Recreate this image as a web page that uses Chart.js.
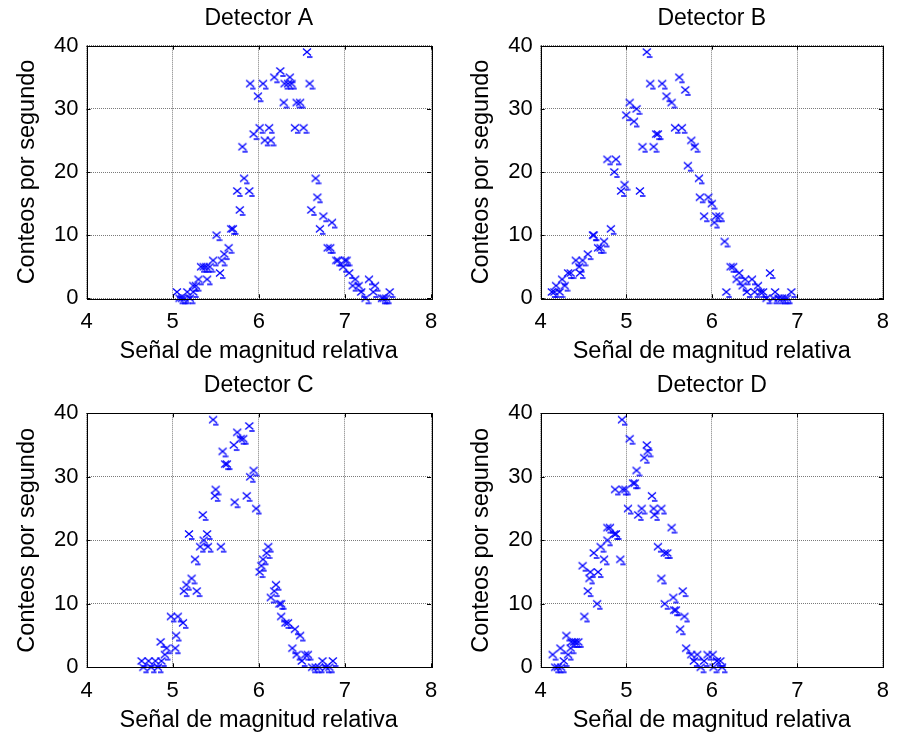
<!DOCTYPE html>
<html>
<head>
<meta charset="utf-8">
<script src="https://cdn.jsdelivr.net/npm/chart.js@4"></script>
<style>
  html, body { margin: 0; padding: 0; background: #fff; }
  #wrap { position: relative; width: 899px; height: 738px; }
  canvas { position: absolute; }
</style>
</head>
<body>
<div id="wrap">
  <canvas id="cA" width="450" height="369" style="left:0;top:0"></canvas>
  <canvas id="cB" width="449" height="369" style="left:450px;top:0"></canvas>
  <canvas id="cC" width="450" height="369" style="left:0;top:369px"></canvas>
  <canvas id="cD" width="449" height="369" style="left:450px;top:369px"></canvas>
</div>
<script>
// Datos
const xTicks = [4, 5, 6, 7, 8];
const yTicks = [0, 10, 20, 30, 40];

const xA = [5.05, 5.08, 5.11, 5.14, 5.17, 5.20, 5.24, 5.24, 5.27, 5.30, 5.33, 5.36, 5.39, 5.40, 5.43, 5.47, 5.51, 5.55, 5.57, 5.60,
            5.65, 5.68, 5.70, 5.75, 5.78, 5.81, 5.83, 5.89, 5.90, 5.94, 5.99, 6.01, 6.05, 6.07, 6.12, 6.14, 6.18, 6.25, 6.29, 6.30,
            6.34, 6.36, 6.38, 6.42, 6.44, 6.48, 6.52, 6.56, 6.59, 6.61, 6.66, 6.68, 6.71, 6.75, 6.80, 6.83, 6.85, 6.90, 6.92, 6.98,
            7.00, 7.02, 7.05, 7.09, 7.12, 7.16, 7.19, 7.24, 7.28, 7.33, 7.35, 7.43, 7.45, 7.48, 7.52];
const yA = [1, 0, 0, 0, 1, 0, 1, 2, 2, 3, 5, 5, 5, 3, 5, 6, 10, 4, 6, 7,
            8, 11, 11, 17, 14, 24, 19, 17, 34, 26, 32, 27, 34, 25, 27, 25, 35, 36, 31, 34,
            34, 35, 34, 27, 31, 31, 27, 39, 34, 14, 19, 16, 11, 13, 8, 8, 12, 6, 6, 5,
            6, 6, 4, 2, 3, 2, 1, 0, 3, 1, 2, 0, 0, 0, 1];

const xB = [4.13, 4.16, 4.18, 4.22, 4.25, 4.28, 4.32, 4.35, 4.41, 4.45, 4.46, 4.49, 4.55, 4.61, 4.62, 4.67, 4.70, 4.74, 4.78, 4.82,
            4.86, 4.88, 4.94, 4.98, 5.00, 5.04, 5.09, 5.12, 5.16, 5.19, 5.24, 5.28, 5.32, 5.35, 5.37, 5.42, 5.47, 5.53, 5.57, 5.62,
            5.65, 5.69, 5.72, 5.76, 5.80, 5.85, 5.86, 5.91, 5.96, 6.00, 6.03, 6.05, 6.09, 6.15, 6.17, 6.22, 6.25, 6.29, 6.32, 6.36,
            6.39, 6.41, 6.47, 6.50, 6.54, 6.57, 6.60, 6.64, 6.68, 6.72, 6.74, 6.78, 6.82, 6.85, 6.88, 6.93];
const yB = [1, 1, 2, 1, 3, 2, 4, 4, 6, 5, 4, 6, 7, 10, 10, 8, 8, 9, 22, 11,
            20, 22, 17, 18, 29, 31, 28, 30, 17, 24, 39, 34, 24, 26, 26, 34, 32, 31, 27, 35,
            27, 33, 21, 25, 24, 19, 16, 13, 16, 15, 12, 13, 13, 9, 1, 5, 5, 3, 4, 2,
            3, 1, 3, 1, 2, 1, 1, 0, 4, 0, 1, 0, 0, 0, 0, 1];

const xC = [4.64, 4.66, 4.72, 4.75, 4.80, 4.83, 4.87, 4.86, 4.91, 4.93, 4.98, 5.03, 5.04, 5.06, 5.12, 5.13, 5.16, 5.19, 5.22, 5.26,
            5.28, 5.32, 5.35, 5.36, 5.40, 5.41, 5.47, 5.49, 5.50, 5.56, 5.58, 5.61, 5.63, 5.71, 5.72, 5.75, 5.79, 5.82, 5.86, 5.89,
            5.90, 5.94, 5.97, 6.01, 6.03, 6.05, 6.09, 6.11, 6.14, 6.18, 6.20, 6.24, 6.26, 6.26, 6.31, 6.34, 6.39, 6.42, 6.44, 6.48,
            6.50, 6.54, 6.57, 6.62, 6.66, 6.70, 6.74, 6.78, 6.82, 6.86];
const yC = [1, 0, 1, 0, 1, 0, 1, 4, 2, 3, 8, 3, 5, 8, 7, 12, 13, 21, 14, 17,
            12, 19, 24, 20, 21, 19, 39, 27, 28, 19, 34, 32, 32, 35, 26, 37, 36, 36, 27, 38,
            30, 31, 25, 15, 16, 17, 18, 19, 11, 12, 13, 10, 10, 8, 7, 7, 3, 6, 2, 5,
            1, 2, 2, 0, 0, 0, 1, 0, 0, 1];

const xD = [4.14, 4.17, 4.20, 4.23, 4.24, 4.27, 4.30, 4.32, 4.35, 4.36, 4.39, 4.41, 4.44, 4.49, 4.51, 4.55, 4.57, 4.58, 4.62, 4.66,
            4.67, 4.70, 4.74, 4.78, 4.78, 4.81, 4.86, 4.87, 4.88, 4.93, 4.95, 4.96, 4.99, 5.02, 5.04, 5.08, 5.10, 5.12, 5.14, 5.18,
            5.21, 5.24, 5.25, 5.30, 5.32, 5.33, 5.37, 5.41, 5.41, 5.45, 5.45, 5.48, 5.53, 5.55, 5.56, 5.58, 5.63, 5.66, 5.68, 5.70,
            5.76, 5.79, 5.83, 5.87, 5.91, 5.95, 6.01, 6.02, 6.06, 6.10, 6.12];
const yD = [2, 0, 0, 3, 0, 1, 5, 2, 3, 4, 4, 4, 4, 16, 8, 12, 14, 15, 18, 10,
            15, 19, 17, 20, 22, 22, 21, 28, 21, 17, 39, 28, 28, 25, 36, 29, 29, 31, 24, 25,
            33, 35, 34, 27, 25, 24, 19, 25, 14, 18, 10, 18, 22, 11, 9, 9, 6, 12, 8, 3,
            2, 1, 2, 0, 1, 2, 2, 0, 1, 1, 0];

const fontFam = '"Liberation Sans", Arial, Helvetica, sans-serif';

// marcador 'x' azul con el pequeño trazo inferior que se ve en la figura
const marca = document.createElement('canvas');
marca.width = 12; marca.height = 14;
(function () {
  const g = marca.getContext('2d');
  g.strokeStyle = '#0000ff';
  g.lineWidth = 1.3;
  g.beginPath();
  g.moveTo(2, 3.5); g.lineTo(10, 10.5);
  g.moveTo(10, 3.5); g.lineTo(2, 10.5);
  g.moveTo(6, 12); g.lineTo(11.5, 12);
  g.stroke();
})();

// caja negra con marcas hacia dentro (estilo MATLAB)
const boxPlugin = {
  id: 'box',
  afterDraw(chart) {
    const {ctx, chartArea: a, scales} = chart;
    ctx.save();
    ctx.strokeStyle = '#000';
    ctx.lineWidth = 1;
    ctx.setLineDash([]);
    ctx.strokeRect(Math.round(a.left) + 0.5, Math.round(a.top) + 0.5,
                   Math.round(a.right - a.left), Math.round(a.bottom - a.top));
    const tl = 4;
    ctx.beginPath();
    xTicks.forEach(v => {
      const px = Math.round(scales.x.getPixelForValue(v)) + 0.5;
      ctx.moveTo(px, a.bottom); ctx.lineTo(px, a.bottom - tl);
      ctx.moveTo(px, a.top); ctx.lineTo(px, a.top + tl);
    });
    yTicks.forEach(v => {
      const py = Math.round(scales.y.getPixelForValue(v)) + 0.5;
      ctx.moveTo(a.left, py); ctx.lineTo(a.left + tl, py);
      ctx.moveTo(a.right, py); ctx.lineTo(a.right - tl, py);
    });
    ctx.stroke();
    ctx.restore();
  }
};

function makeChart(id, titulo, xs, ys, yAxisW, yTitlePad, rightPad, topH, titleTop) {
  const puntos = xs.map((x, i) => ({x: x, y: ys[i]}));
  return new Chart(document.getElementById(id), {
    type: 'scatter',
    data: {
      datasets: [{
        data: puntos,
        pointStyle: marca,
        pointRadius: 5,
        clip: false
      }]
    },
    options: {
      responsive: false,
      animation: false,
      events: [],
      layout: { padding: { left: 0, right: rightPad, top: 0, bottom: 0 } },
      plugins: {
        legend: { display: false },
        tooltip: { enabled: false },
        title: { display: false }
      },
      scales: {
        x: {
          type: 'linear',
          min: 4, max: 8,
          afterBuildTicks: s => { s.ticks = xTicks.map(v => ({value: v})); },
          afterFit: s => { s.height = 70.7; },
          ticks: { color: '#000', padding: 10, font: { family: fontFam, size: 22 } },
          grid: { color: '#7a7a7a', lineWidth: 1, drawTicks: false },
          border: { display: false, dash: [1, 1] },
          title: {
            display: true,
            text: 'Señal de magnitud relativa',
            color: '#000',
            font: { family: fontFam, size: 23.5 },
            padding: { top: 0, bottom: 3 }
          }
        },
        // eje superior solo para centrar el título sobre el área del gráfico
        xTitulo: {
          type: 'linear',
          position: 'top',
          min: 4, max: 8,
          afterFit: s => { s.height = topH; },
          ticks: { display: false },
          grid: { display: false, drawTicks: false },
          border: { display: false },
          title: {
            display: true,
            text: titulo,
            color: '#000',
            font: { family: fontFam, size: 23 },
            padding: { top: titleTop, bottom: 0 }
          }
        },
        y: {
          type: 'linear',
          min: 0, max: 40,
          afterBuildTicks: s => { s.ticks = yTicks.map(v => ({value: v})); },
          afterFit: s => { s.width = yAxisW; },
          ticks: { color: '#000', padding: 8, font: { family: fontFam, size: 22 } },
          grid: { color: '#7a7a7a', lineWidth: 1, drawTicks: false },
          border: { display: false, dash: [1, 1] },
          title: {
            display: true,
            text: 'Conteos por segundo',
            color: '#000',
            font: { family: fontFam, size: 23.5 },
            padding: { top: yTitlePad, bottom: 0 }
          }
        }
      }
    },
    plugins: [boxPlugin]
  });
}

makeChart('cA', 'Detector A', xA, yA, 86.5, 13.5, 19, 45.7, 4.5);
makeChart('cB', 'Detector B', xB, yB, 90.7, 17.5, 10.7, 45.7, 4.5);
makeChart('cC', 'Detector C', xC, yC, 86.5, 13.5, 19, 44.3, 2.5);
makeChart('cD', 'Detector D', xD, yD, 90.7, 17.5, 10.7, 44.3, 2.5);
</script>
</body>
</html>
